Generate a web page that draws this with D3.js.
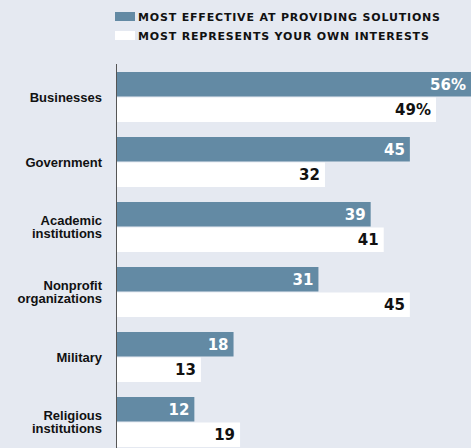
<!DOCTYPE html>
<html>
<head>
<meta charset="utf-8">
<script src="https://cdn.jsdelivr.net/npm/d3@7"></script>
<style>
  body { margin: 0; background: #e5e9f1; }
  svg { display: block; font-family: "DejaVu Sans", sans-serif; font-weight: bold; }
  .cat { font-family: "Liberation Sans", Arial, sans-serif; }
</style>
</head>
<body>
<div id="chart"></div>
<script>
// Chart data
const categories = [
    ['Businesses'],
    ['Government'],
    ['Academic', 'institutions'],
    ['Nonprofit', 'organizations'],
    ['Military'],
    ['Religious', 'institutions']
];
const effective = [56, 45, 39, 31, 18, 12];
const represents = [49, 32, 41, 45, 13, 19];
const seriesNames = ['MOST EFFECTIVE AT PROVIDING SOLUTIONS', 'MOST REPRESENTS YOUR OWN INTERESTS'];
const colors = ['#638aa4', '#ffffff'];

const width = 471;
const height = 448;
const margin = { top: 72, left: 116 };

const svg = d3.select('#chart')
    .append('svg')
    .attr('width', width)
    .attr('height', height);

const x = d3.scaleLinear()
    .domain([0, 50])
    .range([margin.left, margin.left + 326.5]);

const y = d3.scaleBand()
    .domain(d3.range(categories.length))
    .range([margin.top, margin.top + 65 * categories.length])
    .paddingInner(0)
    .paddingOuter(0);

const sub = d3.scaleBand()
    .domain([0, 1])
    .range([0, 50])
    .paddingInner(0.04);

// Legend
const legend = svg.selectAll('.legend')
    .data(seriesNames)
    .enter()
    .append('g')
    .attr('class', 'legend')
    .attr('transform', (d, i) => `translate(115,${12 + i * 19})`);

legend.append('rect')
    .attr('width', 20)
    .attr('height', 9)
    .attr('fill', (d, i) => colors[i]);

legend.append('text')
    .attr('x', 23)
    .attr('y', 9)
    .attr('font-size', 11)
    .attr('letter-spacing', 0.82)
    .attr('fill', '#111')
    .text(d => d);

// Bars
const rows = [effective, represents];
rows.forEach((vals, s) => {
    svg.selectAll('.bar' + s)
        .data(vals)
        .enter()
        .append('rect')
        .attr('x', x(0))
        .attr('y', (d, i) => y(i) + sub(s))
        .attr('width', d => x(d) - x(0))
        .attr('height', sub.bandwidth())
        .attr('fill', colors[s]);

    svg.selectAll('.val' + s)
        .data(vals)
        .enter()
        .append('text')
        .attr('x', d => Math.min(x(d), width) - 5)
        .attr('y', (d, i) => y(i) + sub(s) + sub.bandwidth() / 2 + 5.5)
        .attr('text-anchor', 'end')
        .attr('font-size', 15)
        .attr('fill', s === 0 ? '#fff' : '#111')
        .text((d, i) => i === 0 ? d + '%' : d);
});

// Axis line
svg.append('line')
    .attr('x1', x(0) + 0.5)
    .attr('x2', x(0) + 0.5)
    .attr('y1', 64)
    .attr('y2', height)
    .attr('stroke', '#555')
    .attr('stroke-width', 1);

// Category labels
const labels = svg.selectAll('.cat')
    .data(categories)
    .enter()
    .append('text')
    .attr('class', 'cat')
    .attr('text-anchor', 'end')
    .attr('font-size', 13)
    .attr('fill', '#111')
    .attr('transform', (d, i) => `translate(102,${y(i) + 25})`);

labels.selectAll('tspan')
    .data(d => d.map((t, j) => ({ t, j, n: d.length })))
    .enter()
    .append('tspan')
    .attr('x', 0)
    .attr('y', d => (d.j - (d.n - 1) / 2) * 13.5 + 4.5)
    .text(d => d.t);
</script>
</body>
</html>
